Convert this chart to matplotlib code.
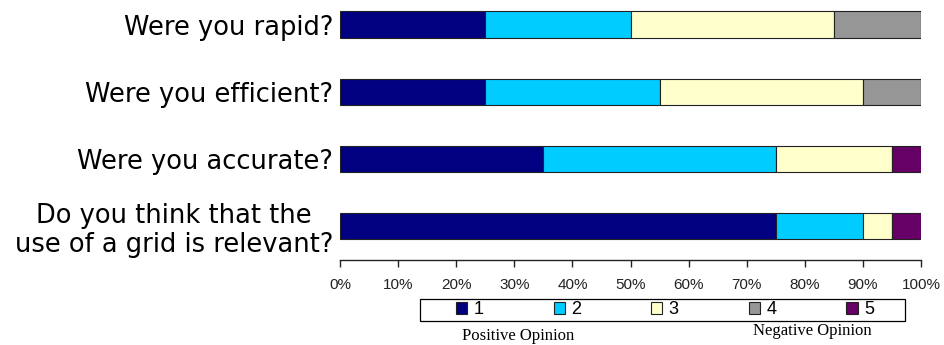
import numpy as np
import matplotlib.pyplot as plt
from matplotlib.patches import Patch, Rectangle
from matplotlib import ticker

questions = [
    "Were you rapid?",
    "Were you efficient?",
    "Were you accurate?",
    "Do you think that the\nuse of a grid is relevant?",
]
levels = ["1", "2", "3", "4", "5"]
# percentage of answers per level (1 = positive ... 5 = negative)
level1 = [25, 25, 35, 75]
level2 = [25, 30, 40, 15]
level3 = [35, 35, 20, 5]
level4 = [15, 10, 0, 0]
level5 = [0, 0, 5, 5]
colors = ["#000080", "#00CCFF", "#FFFFCC", "#969696", "#660066"]

W, H = 944, 345
fig = plt.figure(figsize=(W / 100, H / 100), dpi=100)
ax = fig.add_axes([340 / W, 1 - 260 / H, 581 / W, 260 / H])

ypos = np.arange(len(questions))
left = np.zeros(len(questions))
for vals, col in zip([level1, level2, level3, level4, level5], colors):
    vals = np.array(vals, dtype=float)
    ax.barh(ypos, vals, left=left, height=0.39, color=col,
            edgecolor="#222222", linewidth=0.8)
    left += vals

ax.set_xlim(0, 100)
ax.set_ylim(3.506, -0.365)
ax.xaxis.set_major_locator(ticker.MultipleLocator(10))
ax.xaxis.set_major_formatter(ticker.FuncFormatter(lambda v, p: "{:d}%".format(int(round(v)))))
ax.set_yticks(ypos)
ax.set_yticklabels(questions, fontsize=18.5, family="DejaVu Sans")
for lab in ax.get_yticklabels():
    lab.set_multialignment("center")
    lab.set_linespacing(1.15)
ax.tick_params(axis="y", length=0, pad=5)
ax.tick_params(axis="x", length=5, width=1, direction="out", pad=8,
               labelsize=11, colors="#222222")
for lab in ax.get_xticklabels():
    lab.set_family("Liberation Sans")
for side in ["left", "right", "top"]:
    ax.spines[side].set_visible(False)
ax.spines["bottom"].set_color("#222222")
ax.spines["bottom"].set_linewidth(1)

# legend frame drawn separately so it can be wider than its entries
fig.patches.append(Rectangle((420 / W, 1 - 321 / H), 485 / W, 22 / H,
                             transform=fig.transFigure, facecolor="white",
                             edgecolor="black", linewidth=0.9, zorder=0))
handles = [Patch(facecolor=c, edgecolor="#222222", linewidth=0.8) for c in colors]
leg = fig.legend(handles, levels, loc="center", ncol=5,
                 bbox_to_anchor=(665 / W, 1 - 310 / H),
                 frameon=False, handlelength=0.62, handleheight=0.62,
                 handletextpad=0.35, columnspacing=3.88, borderpad=0.0,
                 prop={"family": "Liberation Sans", "size": 13})

fig.text(518 / W, 1 - 336 / H, "Positive Opinion", ha="center", va="center",
         family="Liberation Serif", fontsize=12)
fig.text(812 / W, 1 - 331 / H, "Negative Opinion", ha="center", va="center",
         family="Liberation Serif", fontsize=12)

fig.savefig("out.png", dpi=100)
plt.close()
